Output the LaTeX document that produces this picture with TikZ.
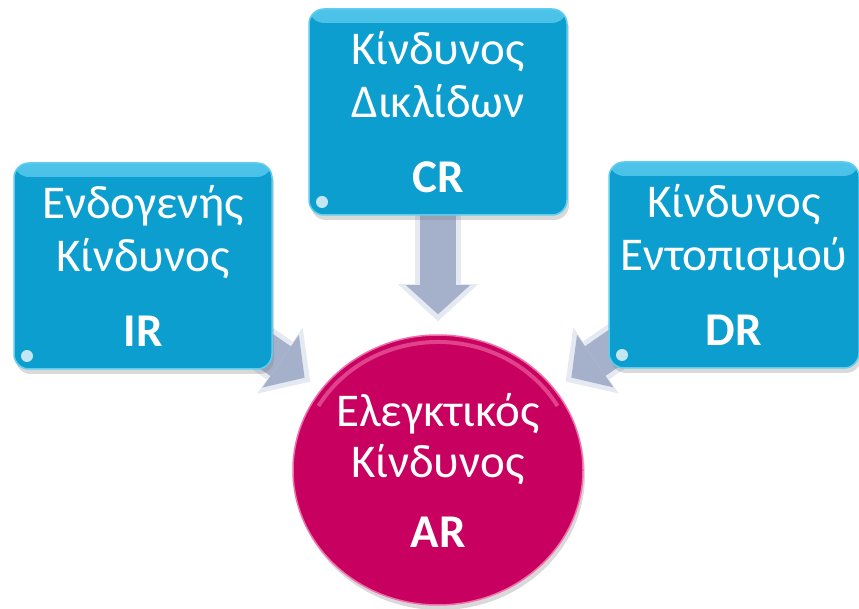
\documentclass[tikz,border=0pt]{standalone}
\usepackage{fontspec}
\setmainfont{Carlito}
\usetikzlibrary{arrows.meta,shadows,backgrounds,shapes.geometric}

\definecolor{riskblue}{RGB}{12,158,207}
\definecolor{riskrim}{RGB}{95,205,240}
\definecolor{auditpink}{RGB}{200,0,95}
\definecolor{pinkrim}{RGB}{240,110,170}
\definecolor{arrowgray}{RGB}{165,177,202}
\definecolor{arrowlight}{RGB}{228,233,242}

\tikzset{
  riskbox/.style={draw=riskrim, line width=1.5pt, fill=riskblue, rounded corners=15pt,
    minimum width=258pt, minimum height=206pt, inner sep=0pt, align=center, text=white,
    font=\fontsize{47}{53}\selectfont,
    drop shadow={shadow xshift=2pt, shadow yshift=-5pt, opacity=0.3},
    path picture={
      \shade[top color=riskrim!80!riskblue, bottom color=riskblue]
        (path picture bounding box.north west) rectangle ([yshift=-14pt]path picture bounding box.north east);
      \fill[white, opacity=0.75] ([xshift=13pt,yshift=13pt]path picture bounding box.south west) circle (6pt);
    }},
  auditcircle/.style={ellipse, draw=pinkrim, line width=1.5pt, fill=auditpink,
    minimum width=290pt, minimum height=270pt, inner sep=0pt, align=center, text=white,
    font=\fontsize{47}{51}\selectfont,
    drop shadow={shadow xshift=2pt, shadow yshift=-5pt, opacity=0.3},
    path picture={
      \draw[pinkrim, opacity=0.6, line width=4pt]
        ([shift={(150:138pt and 128pt)}]path picture bounding box.center)
        arc[start angle=150, end angle=30, x radius=138pt, y radius=128pt];
    }},
  blockarrow/.style={line width=46pt, draw=arrowlight,
    -{Triangle[width=80pt, length=37pt, line width=0pt]}, shorten >=13pt},
  blockcore/.style={line width=36pt, draw=arrowgray,
    -{Triangle[width=64pt, length=29pt, line width=0pt]}, shorten >=20pt}
}

\begin{document}
\begin{tikzpicture}[x=1pt,y=1pt]
  \useasboundingbox (0,0) rectangle (859,608);

  \node[riskbox] (ir) at (143,342) {Ενδογενής\\Κίνδυνος\\[22pt]\textbf{IR}};
  \node[riskbox] (cr) at (438,496) {Κίνδυνος\\Δικλίδων\\[22pt]\textbf{CR}};
  \node[riskbox, minimum width=250pt] (dr) at (734,343) {Κίνδυνος\\Εντοπισμού\\[22pt]\textbf{DR}};
  \node[auditcircle] (ar) at (438,138) {Ελεγκτικός\\Κίνδυνος\\[19pt]\textbf{AR}};

  % arrows into the audit risk
  \begin{scope}[on background layer]
    \foreach \src in {ir,cr,dr}{
      \draw[blockarrow] (\src.center) -- (ar);
      \draw[blockcore] (\src.center) -- (ar);
    }
  \end{scope}
\end{tikzpicture}
\end{document}
